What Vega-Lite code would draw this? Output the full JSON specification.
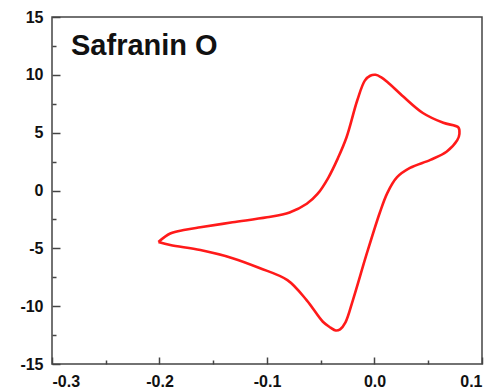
{
  "$schema": "https://vega.github.io/schema/vega-lite/v6.json",
  "autosize": {"type": "none"},
  "width": 430,
  "height": 347,
  "padding": {"left": 52, "top": 17, "right": 13, "bottom": 28},
  "background": "white",
  "config": {
    "view": {"stroke": "#444", "strokeWidth": 1.5},
    "axis": {
      "grid": false,
      "title": null,
      "domain": false,
      "tickColor": "#444",
      "tickWidth": 1.5,
      "labelFont": "Liberation Sans",
      "labelFontWeight": "bold",
      "labelFontSize": 16,
      "labelColor": "#111"
    }
  },
  "data": {
    "values": [
      {"i": 0, "E": -0.201, "I": -4.45},
      {"i": 2, "E": -0.190, "I": -3.72},
      {"i": 3, "E": -0.176, "I": -3.40},
      {"i": 4, "E": -0.162, "I": -3.18},
      {"i": 5, "E": -0.132, "I": -2.75},
      {"i": 6, "E": -0.100, "I": -2.32},
      {"i": 7, "E": -0.079, "I": -1.90},
      {"i": 8, "E": -0.063, "I": -1.15},
      {"i": 9, "E": -0.053, "I": -0.30},
      {"i": 10, "E": -0.043, "I": 1.10},
      {"i": 11, "E": -0.034, "I": 2.80},
      {"i": 12, "E": -0.026, "I": 4.60},
      {"i": 13, "E": -0.016, "I": 7.80},
      {"i": 14, "E": -0.009, "I": 9.50},
      {"i": 15, "E": -0.004, "I": 9.92},
      {"i": 16, "E": 0.001, "I": 10.0},
      {"i": 17, "E": 0.006, "I": 9.80},
      {"i": 18, "E": 0.012, "I": 9.38},
      {"i": 19, "E": 0.027, "I": 8.10},
      {"i": 20, "E": 0.045, "I": 6.70},
      {"i": 21, "E": 0.064, "I": 5.85},
      {"i": 22, "E": 0.078, "I": 5.45},
      {"i": 23, "E": 0.079, "I": 4.90},
      {"i": 24, "E": 0.077, "I": 4.35},
      {"i": 25, "E": 0.067, "I": 3.35},
      {"i": 26, "E": 0.052, "I": 2.65},
      {"i": 27, "E": 0.033, "I": 1.95},
      {"i": 28, "E": 0.021, "I": 1.15},
      {"i": 29, "E": 0.012, "I": -0.20},
      {"i": 30, "E": 0.005, "I": -1.90},
      {"i": 31, "E": -0.007, "I": -5.40},
      {"i": 32, "E": -0.020, "I": -9.45},
      {"i": 33, "E": -0.027, "I": -11.40},
      {"i": 34, "E": -0.032, "I": -12.00},
      {"i": 35, "E": -0.036, "I": -12.10},
      {"i": 36, "E": -0.041, "I": -11.85},
      {"i": 37, "E": -0.048, "I": -11.35},
      {"i": 38, "E": -0.063, "I": -9.50},
      {"i": 39, "E": -0.081, "I": -7.75},
      {"i": 40, "E": -0.107, "I": -6.70},
      {"i": 41, "E": -0.132, "I": -5.85},
      {"i": 42, "E": -0.162, "I": -5.15},
      {"i": 43, "E": -0.190, "I": -4.72},
      {"i": 44, "E": -0.201, "I": -4.45}
    ]
  },
  "resolve": {"axis": {"x": "independent", "y": "independent"}},
  "layer": [
    {
      "mark": {"type": "line", "color": "#ff1a1a", "strokeWidth": 2.6, "interpolate": "catmull-rom", "clip": true},
      "encoding": {
        "x": {
          "field": "E",
          "type": "quantitative",
          "scale": {"domain": [-0.3, 0.1], "nice": false, "zero": false},
          "axis": {
            "orient": "bottom",
            "values": [-0.3, -0.2, -0.1, 0, 0.1],
            "labelExpr": "replace(format(datum.value, '.1f'), '\u2212', '-')",
            "translate": -6.5,
            "position": 7,
            "tickSize": 7,
            "labelPadding": 9
          }
        },
        "y": {
          "field": "I",
          "type": "quantitative",
          "scale": {"domain": [-15, 15], "nice": false, "zero": false},
          "axis": {
            "orient": "left",
            "values": [-15, -10, -5, 0, 5, 10, 15],
            "labelExpr": "replace(format(datum.value, 'd'), '\u2212', '-')",
            "translate": 8.5,
            "position": -8,
            "tickSize": 8,
            "labelPadding": 9
          }
        },
        "order": {"field": "i", "type": "quantitative"}
      }
    },
    {
      "transform": [{"filter": "datum.i == 0"}],
      "mark": {"type": "text", "text": "Safranin O", "align": "left", "baseline": "alphabetic", "font": "Liberation Sans", "fontSize": 29, "fontWeight": "bold", "color": "#111"},
      "encoding": {
        "x": {
          "datum": -0.2823,
          "axis": {
            "orient": "bottom",
            "values": [-0.25, -0.15, -0.05, 0.05],
            "labels": false,
            "translate": -3.5,
            "position": 4,
            "tickSize": 4
          }
        },
        "y": {
          "datum": 11.71,
          "axis": {
            "orient": "left",
            "values": [-12.5, -7.5, -2.5, 2.5, 7.5, 12.5],
            "labels": false,
            "translate": 4.5,
            "position": -4,
            "tickSize": 4
          }
        }
      }
    }
  ]
}
